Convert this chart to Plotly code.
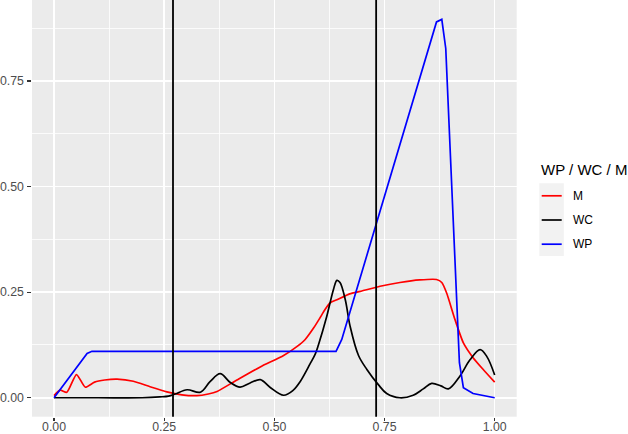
import plotly.graph_objects as go

# ---------------- data ----------------
m_x = [0, 0.014, 0.029, 0.051, 0.071, 0.092, 0.115, 0.143, 0.18, 0.218, 0.256, 0.29,
       0.324, 0.35, 0.37, 0.415, 0.468, 0.521, 0.551, 0.57, 0.589, 0.604, 0.615, 0.627,
       0.642, 0.671, 0.695, 0.74, 0.785, 0.83, 0.868, 0.88, 0.891, 0.91, 0.929, 0.951,
       0.974, 1.0]
m_y = [0.005, 0.018, 0.013, 0.055, 0.025, 0.037, 0.042, 0.044, 0.039, 0.026, 0.014, 0.007,
       0.005, 0.009, 0.015, 0.042, 0.073, 0.100, 0.121, 0.138, 0.165, 0.190, 0.209, 0.225,
       0.232, 0.246, 0.252, 0.264, 0.273, 0.279, 0.280, 0.273, 0.248, 0.185, 0.130, 0.095,
       0.067, 0.037]

wc_x = [0, 0.1, 0.2, 0.24, 0.26, 0.275, 0.302, 0.332, 0.354, 0.377, 0.40, 0.422, 0.445,
        0.468, 0.49, 0.521, 0.543, 0.5585, 0.581, 0.593, 0.60, 0.619, 0.634, 0.642, 0.649,
        0.661, 0.672, 0.691, 0.71, 0.736, 0.755, 0.785, 0.815, 0.838, 0.857, 0.878,
        0.895, 0.921, 0.944, 0.967, 0.982, 1.0]
wc_y = [0, 0, 0, 0.002, 0.004, 0.009, 0.019, 0.013, 0.038, 0.057, 0.036, 0.025, 0.035,
        0.043, 0.025, 0.006, 0.018, 0.038, 0.080, 0.104, 0.125, 0.193, 0.256, 0.278, 0.273,
        0.232, 0.169, 0.100, 0.067, 0.031, 0.010, 0.0, 0.006, 0.021, 0.034, 0.028,
        0.021, 0.051, 0.090, 0.114, 0.098, 0.054]

wp_x = [0, 0.075, 0.086, 0.3, 0.5, 0.640, 0.653, 0.868, 0.880, 0.889, 0.920, 0.929,
        0.951, 0.975, 1.0]
wp_y = [0, 0.105, 0.110, 0.110, 0.110, 0.110, 0.138, 0.890, 0.896, 0.827, 0.083, 0.024,
        0.010, 0.005, 0.0]

vlines = [0.27, 0.731]

series_names = ["M", "WC", "WP"]
series_colors = ["#FF0000", "#000000", "#0000FF"]
series_shapes = ["spline", "spline", "linear"]
series_smoothing = [0.6, 1.0, 0]
legend_title = "WP / WC / M"

x_ticks = [0, 0.25, 0.5, 0.75, 1.0]
x_tick_labels = ["0.00", "0.25", "0.50", "0.75", "1.00"]
y_ticks = [0, 0.25, 0.5, 0.75]
y_tick_labels = ["0.00", "0.25", "0.50", "0.75"]

# ---------------- figure ----------------
W, H = 628, 434
FONT = "Liberation Sans, Arial, Helvetica, sans-serif"

fig = go.Figure()
xs = [m_x, wc_x, wp_x]
ys = [m_y, wc_y, wp_y]
for name, col, shp, sm, x, y in zip(series_names, series_colors, series_shapes,
                                    series_smoothing, xs, ys):
    line = dict(color=col, width=1.7, shape=shp)
    if shp == "spline":
        line["smoothing"] = sm
    fig.add_trace(go.Scatter(x=x, y=y, mode="lines", name=name, line=line,
                             showlegend=False, hoverinfo="skip"))

for v in vlines:
    fig.add_shape(type="line", x0=v, x1=v, y0=0, y1=1, xref="x", yref="y domain",
                  line=dict(color="black", width=1.8), layer="above")

# plot area in pixels
pl, pr, pt, pb = 32, 516.7, 0, 416.7

fig.update_layout(
    width=W, height=H,
    margin=dict(l=0, r=0, t=0, b=0),
    paper_bgcolor="white",
    plot_bgcolor="#EBEBEB",
    font=dict(family=FONT),
    xaxis=dict(domain=[pl / W, pr / W], range=[-0.05, 1.05],
               tickvals=x_ticks, ticktext=x_tick_labels,
               showgrid=True, gridcolor="white", gridwidth=1.5,
               minor=dict(tickvals=[0.125, 0.375, 0.625, 0.875], showgrid=True,
                          gridcolor="white", gridwidth=0.8, ticks=""),
               zeroline=False, showline=False,
               ticks="outside", ticklen=3.7, tickwidth=1.2, tickcolor="#333333",
               ticklabelstandoff=-5,
               tickfont=dict(size=12.3, color="#4D4D4D", family=FONT),
               fixedrange=True, automargin=False),
    yaxis=dict(domain=[1 - pb / H, 1 - pt / H], range=[-0.04485, 0.94185],
               tickvals=y_ticks, ticktext=y_tick_labels,
               showgrid=True, gridcolor="white", gridwidth=1.5,
               minor=dict(tickvals=[0.125, 0.375, 0.625, 0.875], showgrid=True,
                          gridcolor="white", gridwidth=0.8, ticks=""),
               zeroline=False, showline=False,
               ticks="outside", ticklen=3.7, tickwidth=1.2, tickcolor="#333333",
               ticklabelstandoff=1,
               tickfont=dict(size=12.3, color="#4D4D4D", family=FONT),
               fixedrange=True, automargin=False),
)

# ---------------- manual ggplot-style legend ----------------
def px(x):
    return x / W

def py(y):
    return 1 - y / H

fig.add_annotation(x=px(539.3), y=py(169.3), xref="paper", yref="paper",
                   text=legend_title, showarrow=False, xanchor="left", yanchor="middle",
                   font=dict(size=15, color="black", family=FONT))
fig.add_shape(type="rect", xref="paper", yref="paper",
              x0=px(539.3), x1=px(563.8), y0=py(183.3), y1=py(256),
              fillcolor="#F2F2F2", line=dict(width=0), layer="below")
key_y = [195.8, 220, 244.2]
for name, col, ky in zip(series_names, series_colors, key_y):
    fig.add_shape(type="line", xref="paper", yref="paper",
                  x0=px(541.7), x1=px(561.7), y0=py(ky), y1=py(ky),
                  line=dict(color=col, width=1.7))
    fig.add_annotation(x=px(571), y=py(ky), xref="paper", yref="paper",
                       text=name, showarrow=False, xanchor="left", yanchor="middle",
                       font=dict(size=12, color="black", family=FONT))

fig.write_html(
    "out.html",
    config={"displayModeBar": False, "staticPlot": True},
    post_script="document.body.style.margin='0';document.body.style.padding='0';"
                "document.documentElement.style.overflow='hidden';",
)
